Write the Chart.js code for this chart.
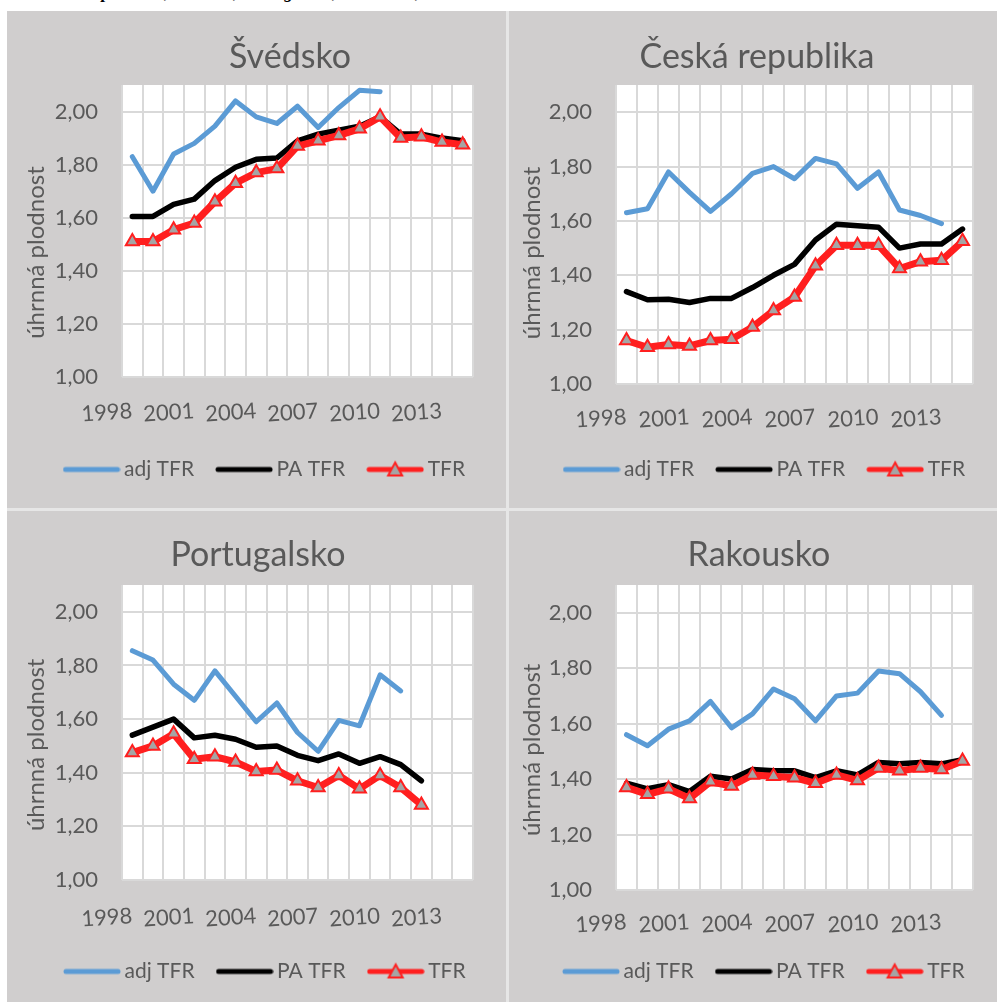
<!DOCTYPE html>
<html lang="cs">
<head>
<meta charset="UTF-8" />
<title>Úhrnná plodnost</title>
<script src="https://cdn.jsdelivr.net/npm/chart.js"></script>
<style>
  body { margin: 0; background: #fff; width: 997px; height: 1002px; position: relative; overflow: hidden; }
  .caption { position: absolute; left: 0; top: 0; width: 997px; height: 11px; overflow: hidden; }
  .caption span { position: absolute; left: 38px; top: -18px; font: italic bold 18px "Liberation Serif", serif; color: #000; white-space: nowrap; }
  .grid { position: absolute; left: 7px; top: 11px; width: 990px; height: 991px; background: #e6e6e6; }
  .panel { position: absolute; background: #d0cece; }
  .panel canvas { display: block; }
</style>
</head>
<body>
  <div class="caption"><span>Úhrnná plodnost, Švédsko, Portugalsko, Rakousko, 1998–2014</span></div>
  <div class="grid"></div>
  <div class="panel" style="left:7px;top:11px;"><canvas id="c1" width="499" height="497"></canvas></div>
  <div class="panel" style="left:509px;top:11px;"><canvas id="c2" width="488" height="497"></canvas></div>
  <div class="panel" style="left:7px;top:511px;"><canvas id="c3" width="499" height="491"></canvas></div>
  <div class="panel" style="left:509px;top:511px;"><canvas id="c4" width="488" height="491"></canvas></div>

<script>
// roky (kategorie) a popisky osy x
const years = ['1998','1999','2000','2001','2002','2003','2004','2005','2006','2007','2008','2009','2010','2011','2012','2013','2014'];
const shownYears = ['1998','2001','2004','2007','2010','2013'];
const seriesNames = ['adj TFR', 'PA TFR', 'TFR'];

// Švédsko
const sweAdj = [1.83, 1.70, 1.84, 1.88, 1.945, 2.04, 1.98, 1.955, 2.02, 1.94, 2.015, 2.08, 2.075, null, null, null, null];
const swePA  = [1.605, 1.605, 1.65, 1.67, 1.74, 1.79, 1.82, 1.825, 1.89, 1.915, 1.93, 1.945, 1.98, 1.915, 1.915, 1.90, 1.89];
const sweTFR = [1.51, 1.51, 1.555, 1.58, 1.66, 1.73, 1.77, 1.785, 1.87, 1.89, 1.91, 1.935, 1.98, 1.90, 1.905, 1.885, 1.875];

// Česká republika
const czeAdj = [1.63, 1.645, 1.78, 1.705, 1.635, 1.70, 1.775, 1.80, 1.755, 1.83, 1.81, 1.72, 1.78, 1.64, 1.62, 1.59, null];
const czePA  = [1.34, 1.31, 1.312, 1.30, 1.315, 1.315, 1.355, 1.40, 1.44, 1.53, 1.588, 1.582, 1.577, 1.50, 1.515, 1.515, 1.57];
const czeTFR = [1.16, 1.135, 1.145, 1.14, 1.16, 1.165, 1.21, 1.27, 1.32, 1.435, 1.51, 1.51, 1.51, 1.425, 1.45, 1.455, 1.525];

// Portugalsko
const prtAdj = [1.855, 1.82, 1.73, 1.67, 1.78, 1.685, 1.59, 1.66, 1.55, 1.48, 1.595, 1.575, 1.765, 1.705, null, null, null];
const prtPA  = [1.54, 1.57, 1.60, 1.53, 1.54, 1.525, 1.495, 1.50, 1.465, 1.445, 1.47, 1.435, 1.46, 1.43, 1.37, null, null];
const prtTFR = [1.475, 1.50, 1.545, 1.45, 1.46, 1.44, 1.405, 1.41, 1.37, 1.345, 1.39, 1.34, 1.39, 1.345, 1.28, null, null];

// Rakousko
const autAdj = [1.56, 1.52, 1.58, 1.61, 1.68, 1.585, 1.635, 1.725, 1.69, 1.61, 1.70, 1.71, 1.79, 1.78, 1.715, 1.63, null];
const autPA  = [1.385, 1.365, 1.38, 1.355, 1.41, 1.40, 1.435, 1.43, 1.43, 1.405, 1.43, 1.415, 1.46, 1.455, 1.46, 1.455, 1.47];
const autTFR = [1.37, 1.345, 1.365, 1.33, 1.39, 1.375, 1.415, 1.41, 1.405, 1.385, 1.415, 1.395, 1.44, 1.43, 1.44, 1.435, 1.465];

const TEXT = '#595959';
const BLUE = '#5b9bd5';
const RED = '#ff1f1f';
const GREY = '#a5a5a5';

Chart.defaults.font.family = 'Lato, "Open Sans", sans-serif';
Chart.defaults.color = TEXT;
Chart.defaults.animation = false;

// bílá plocha grafu
const plotBg = {
  id: 'plotBg',
  beforeDraw(chart) {
    const a = chart.chartArea;
    chart.ctx.save();
    chart.ctx.fillStyle = '#ffffff';
    chart.ctx.fillRect(a.left, a.top, a.right - a.left, a.bottom - a.top);
    chart.ctx.restore();
  }
};

// posun nadpisu a legendy vodorovně (jako v Excelu)
const boxShift = {
  id: 'boxShift',
  afterLayout(chart, args, opts) {
    const lg = chart.legend, tb = chart.titleBlock;
    if (lg) { lg.left += opts.legendDx; lg.right += opts.legendDx; }
    if (tb) { tb.left += opts.titleDx; tb.right += opts.titleDx; }
  }
};

// značky do legendy (čára, u TFR s trojúhelníkem)
function legendMark(color, tri) {
  const c = document.createElement('canvas');
  c.width = 58; c.height = 20;
  const g = c.getContext('2d');
  g.strokeStyle = color; g.lineWidth = 5; g.lineCap = 'round';
  g.beginPath(); g.moveTo(3, 10); g.lineTo(55, 10); g.stroke();
  if (tri) {
    g.fillStyle = GREY; g.strokeStyle = RED; g.lineWidth = 2; g.lineJoin = 'miter';
    g.beginPath(); g.moveTo(29, 3); g.lineTo(36, 16); g.lineTo(22, 16); g.closePath();
    g.fill(); g.stroke();
  }
  return c;
}
const marks = [legendMark(BLUE, false), legendMark('#000000', false), legendMark(RED, true)];

function makeChart(id, title, adj, pa, tfr, L) {
  new Chart(document.getElementById(id), {
    type: 'line',
    data: {
      labels: years,
      datasets: [
        { label: seriesNames[0], data: adj, borderColor: BLUE, borderWidth: 5, pointRadius: 0, order: 2 },
        { label: seriesNames[1], data: pa, borderColor: '#000000', borderWidth: 5.5, pointRadius: 0, order: 1 },
        { label: seriesNames[2], data: tfr, borderColor: RED, borderWidth: 7, order: 0,
          pointStyle: 'triangle', pointRadius: 7.5, pointBackgroundColor: GREY,
          pointBorderColor: RED, pointBorderWidth: 2 }
      ]
    },
    options: {
      responsive: false,
      spanGaps: false,
      elements: { line: { tension: 0, borderJoinStyle: 'round', borderCapStyle: 'round' } },
      layout: { padding: { left: 0, right: L.padRight, top: 0, bottom: L.padBottom } },
      plugins: {
        tooltip: { enabled: false },
        boxShift: { legendDx: L.legendDx, titleDx: L.titleDx },
        title: {
          display: true, text: title, color: TEXT,
          font: { size: 34, weight: 'normal' },
          padding: { top: L.titleTop, bottom: L.titleBottom }
        },
        legend: {
          position: 'bottom', align: 'start',
          labels: {
            usePointStyle: true, pointStyleWidth: 44, boxHeight: 20,
            padding: 28, color: TEXT, font: { size: 21 },
            generateLabels: () => seriesNames.map((n, i) => ({
              text: n, pointStyle: marks[i], fillStyle: 'transparent',
              strokeStyle: 'transparent', lineWidth: 0, hidden: false, datasetIndex: i, fontColor: TEXT
            }))
          }
        }
      },
      scales: {
        x: {
          offset: true,
          grid: { offset: true, color: '#d9d9d9', lineWidth: 2, drawTicks: false },
          border: { display: false },
          ticks: {
            autoSkip: false, minRotation: 4, maxRotation: 4, padding: L.xPad,
            font: { size: 22 }, color: TEXT,
            callback: function (v) {
              const lab = this.getLabelForValue(v);
              return shownYears.includes(lab) ? lab : '';
            }
          },
          afterFit: s => { s.height = L.xAxisH; }
        },
        y: {
          min: 1, max: 2.1,
          grid: { color: '#d9d9d9', lineWidth: 2, drawTicks: false },
          border: { display: false },
          ticks: {
            stepSize: 0.2, includeBounds: false, padding: 24,
            font: { size: 22 }, color: TEXT,
            callback: v => v.toFixed(2).replace('.', ',')
          },
          title: {
            display: true, text: 'úhrnná plodnost' + '\u00a0'.repeat(L.yTitleShift), color: TEXT,
            font: { size: 24 }, padding: { top: L.yTitlePad, bottom: 0 }
          },
          afterFit: s => { s.width = L.yAxisW; }
        }
      }
    },
    plugins: [plotBg, boxShift]
  });
}

makeChart('c1', 'Švédsko', sweAdj, swePA, sweTFR,
  { padRight: 33, padBottom: 18, titleTop: 25.6, titleBottom: 7.6, titleDx: 50, xPad: 20.8, xAxisH: 54,
    yAxisW: 115, yTitlePad: 14.6, yTitleShift: 7, legendDx: 34.5 });
makeChart('c2', 'Česká republika', czeAdj, czePA, czeTFR,
  { padRight: 24, padBottom: 18, titleTop: 25.6, titleBottom: 7.6, titleDx: 16, xPad: 19.8, xAxisH: 47,
    yAxisW: 107, yTitlePad: 8.6, yTitleShift: 6, legendDx: 32.5 });
makeChart('c3', 'Portugalsko', prtAdj, prtPA, prtTFR,
  { padRight: 33, padBottom: 10, titleTop: 23.6, titleBottom: 9.6, titleDx: 18, xPad: 22.8, xAxisH: 53,
    yAxisW: 115, yTitlePad: 14.6, yTitleShift: 4, legendDx: 35 });
makeChart('c4', 'Rakousko', autAdj, autPA, autTFR,
  { padRight: 24, padBottom: 10, titleTop: 23.6, titleBottom: 9.6, titleDx: 18, xPad: 18.8, xAxisH: 43,
    yAxisW: 107, yTitlePad: 8.6, yTitleShift: 4, legendDx: 32 });
</script>
</body>
</html>
